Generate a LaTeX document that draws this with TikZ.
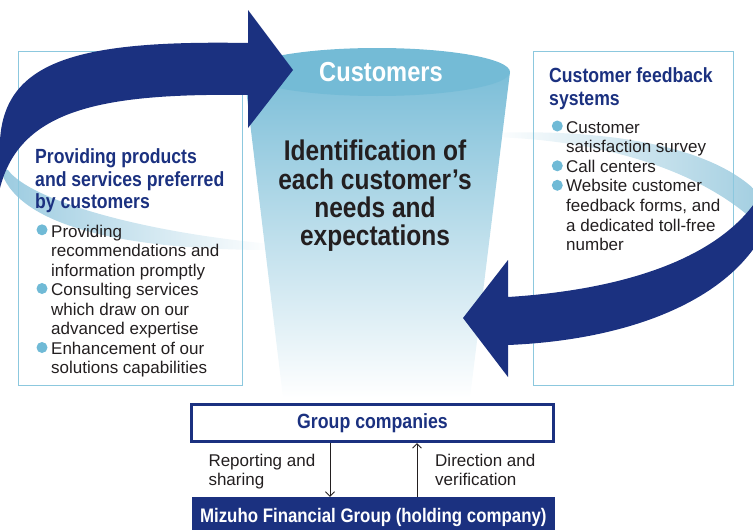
\documentclass[tikz,border=0pt]{standalone}
\usepackage{fontspec}
\setmainfont{Liberation Sans}
\newfontfamily\condfont{Liberation Sans}[FakeStretch=0.86]
\usetikzlibrary{arrows.meta}
\definecolor{navy}{RGB}{27,49,128}
\definecolor{boxline}{RGB}{140,200,222}
\definecolor{bulletc}{RGB}{112,186,214}
\definecolor{cuptop}{RGB}{116,187,214}
\definecolor{cupbody}{RGB}{124,190,216}
\definecolor{cupmid}{RGB}{190,221,235}
\definecolor{txt}{RGB}{35,31,32}
\definecolor{fadeL}{RGB}{155,203,224}
\definecolor{fadeR}{RGB}{160,205,224}
\tikzset{
  cbox/.style={draw=boxline, line width=0.9pt},
  ttl/.style={font=\condfont\bfseries\fontsize{20.5}{22.5}\selectfont, text=navy, anchor=base west, inner sep=0pt},
  bodytxt/.style={font=\fontsize{17}{19.5}\selectfont, text=txt, anchor=base west, inner sep=0pt},
  ctr/.style={font=\condfont\bfseries\fontsize{28.5}{30}\selectfont, text=txt, anchor=base, inner sep=0pt},
  dot/.style={circle, fill=bulletc, minimum size=11pt, inner sep=0pt},
  garrow/.style={draw=txt, line width=0.9pt, -{Straight Barb[length=4.5pt,width=9pt]}},
}
\begin{document}
\begin{tikzpicture}[x=1pt,y=-1pt]
\useasboundingbox (0,0) rectangle (753,530);
% faded back parts of the loops
\shade[left color=fadeL, right color=white] (0,168) .. controls (15,225) and (120,250) .. (272,250) -- (272,244) .. controls (140,232) and (30,200) .. (8,170) -- cycle;
\shade[left color=white, right color=fadeR] (490,133) .. controls (620,128) and (730,150) .. (768,205) -- (768,235) .. controls (720,180) and (620,140) .. (490,137) -- cycle;
% boxes
\node[cbox, minimum width=223.5pt, minimum height=334pt] (lb) at (130.25,218) {};
\node[cbox, minimum width=200pt, minimum height=334pt] (rb) at (633,218) {};
% cup
\shade[top color=cupbody, middle color=cupmid, bottom color=white] (244,72) -- (283,398) -- (470,398) -- (510,72) -- cycle;
\fill[cuptop] (377,72) ellipse [x radius=133, y radius=24];
% navy arrows
\fill[navy] (0,140) .. controls (5,60) and (80,40) .. (248,43) -- (248,10) -- (293,70) -- (248,128) -- (248,95) .. controls (100,93) and (20,110) .. (0,188) -- (-10,188) -- (-10,140) -- cycle;
\fill[navy] (508,297) .. controls (620,290) and (720,260) .. (760,195) -- (770,195) -- (770,230) -- (765,230) .. controls (730,300) and (630,340) .. (508,345) -- (508,377) -- (463,318) -- (508,260) -- cycle;
% cup texts
\node[font=\condfont\bfseries\fontsize{27.5}{30}\selectfont, text=white, anchor=base, inner sep=0pt] (cust) at (381,81) {Customers};
\node[ctr] (c1) at (375,160.5) {Identification of};
\node[ctr] (c2) at (375,189) {each customer’s};
\node[ctr] (c3) at (375,217) {needs and};
\node[ctr] (c4) at (375,245.5) {expectations};
% left box
\node[ttl] (lt1) at (35,163.7) {Providing products};
\node[ttl] (lt2) at (35,186.3) {and services preferred};
\node[ttl] (lt3) at (35,208.8) {by customers};
\node[dot] (lb1) at (42,229.8) {};
\node[dot] (lb2) at (42,288.5) {};
\node[dot] (lb3) at (42,347.5) {};
\node[bodytxt] (l1) at (51,237) {Providing};
\node[bodytxt] (l2) at (51,256.5) {recommendations and};
\node[bodytxt] (l3) at (51,276) {information promptly};
\node[bodytxt] (l4) at (51,295.5) {Consulting services};
\node[bodytxt] (l5) at (51,315) {which draw on our};
\node[bodytxt] (l6) at (51,334.5) {advanced expertise};
\node[bodytxt] (l7) at (51,354) {Enhancement of our};
\node[bodytxt] (l8) at (51,373.5) {solutions capabilities};
% right box
\node[ttl] (rt1) at (549,82.4) {Customer feedback};
\node[ttl] (rt2) at (549,105) {systems};
\node[dot] (rb1) at (557.3,126) {};
\node[dot] (rb2) at (557.3,165.8) {};
\node[dot] (rb3) at (557.3,185.3) {};
\node[bodytxt] (r1) at (566,133) {Customer};
\node[bodytxt] (r2) at (566,152.6) {satisfaction survey};
\node[bodytxt] (r3) at (566,172.2) {Call centers};
\node[bodytxt] (r4) at (566,191.8) {Website customer};
\node[bodytxt] (r5) at (566,211.4) {feedback forms, and};
\node[bodytxt] (r6) at (566,231) {a dedicated toll-free};
\node[bodytxt] (r7) at (566,250.6) {number};
% bottom organisation
\node[draw=navy, line width=3.3pt, minimum width=361.7pt, minimum height=36.7pt, inner sep=0pt,
      font=\condfont\bfseries\fontsize{20.6}{22}\selectfont, text=navy] (gc) at (372.5,423) {Group companies};
\node[fill=navy, minimum width=363.5pt, minimum height=41pt, inner sep=0pt,
      font=\condfont\bfseries\fontsize{19.6}{22}\selectfont, text=white] (mf) at (373.3,517.5) {Mizuho Financial Group (holding company)};
\coordinate (ax1) at (330,0);
\coordinate (ax2) at (417,0);
\draw[garrow] (gc.south -| ax1) -- (mf.north -| ax1);
\draw[garrow] (mf.north -| ax2) -- (gc.south -| ax2);
\node[bodytxt] (rp1) at (208.3,466.7) {Reporting and};
\node[bodytxt] (rp2) at (208.3,485.3) {sharing};
\node[bodytxt] (dv1) at (435,466.7) {Direction and};
\node[bodytxt] (dv2) at (435,485.3) {verification};
\end{tikzpicture}
\end{document}
